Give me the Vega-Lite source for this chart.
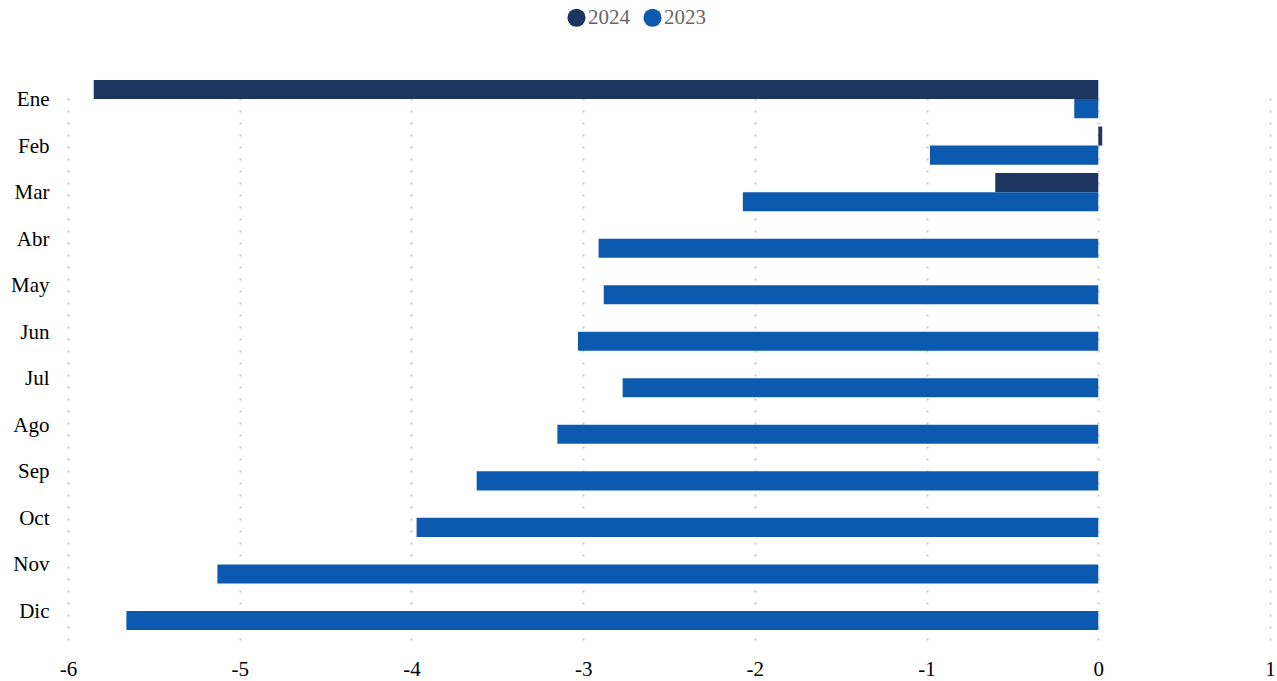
{
  "$schema": "https://vega.github.io/schema/vega-lite/v6.json",
  "width": 1202,
  "height": 580,
  "autosize": {"type": "none"},
  "padding": {"left": 68, "top": 70, "right": 7, "bottom": 31},
  "background": "white",
  "config": {
    "view": {"stroke": null},
    "font": "Liberation Serif"
  },
  "data": {
    "values": [
      {"mes": "Ene", "anio": "2024", "valor": -5.85},
      {"mes": "Ene", "anio": "2023", "valor": -0.14},
      {"mes": "Feb", "anio": "2024", "valor": 0.023},
      {"mes": "Feb", "anio": "2023", "valor": -0.98},
      {"mes": "Mar", "anio": "2024", "valor": -0.60},
      {"mes": "Mar", "anio": "2023", "valor": -2.07},
      {"mes": "Abr", "anio": "2023", "valor": -2.91},
      {"mes": "May", "anio": "2023", "valor": -2.88},
      {"mes": "Jun", "anio": "2023", "valor": -3.03},
      {"mes": "Jul", "anio": "2023", "valor": -2.77},
      {"mes": "Ago", "anio": "2023", "valor": -3.15},
      {"mes": "Sep", "anio": "2023", "valor": -3.62},
      {"mes": "Oct", "anio": "2023", "valor": -3.97},
      {"mes": "Nov", "anio": "2023", "valor": -5.13},
      {"mes": "Dic", "anio": "2023", "valor": -5.66}
    ]
  },
  "mark": {"type": "bar"},
  "encoding": {
    "y": {
      "field": "mes",
      "type": "nominal",
      "sort": ["Ene", "Feb", "Mar", "Abr", "May", "Jun", "Jul", "Ago", "Sep", "Oct", "Nov", "Dic"],
      "scale": {"paddingInner": 0.18, "paddingOuter": 0, "range": [10, 560]},
      "axis": {
        "title": null,
        "domain": false,
        "ticks": false,
        "grid": false,
        "labelFont": "Liberation Serif",
        "labelFontSize": 21,
        "labelColor": "#000000",
        "labelPadding": 19,
        "labelBaseline": "middle",
        "labelOffset": 1
      }
    },
    "yOffset": {
      "field": "anio",
      "type": "nominal",
      "sort": ["2024", "2023"],
      "scale": {"paddingInner": 0, "paddingOuter": 0}
    },
    "x": {
      "field": "valor",
      "type": "quantitative",
      "scale": {"domain": [-6, 1], "nice": false, "zero": false},
      "axis": {
        "title": null,
        "values": [-6, -5, -4, -3, -2, -1, 0, 1],
        "labelExpr": "'' + datum.value",
        "labelFlush": false,
        "labelOverlap": false,
        "domain": false,
        "ticks": false,
        "grid": true,
        "gridColor": "#c8c8c8",
        "gridDash": [2, 10],
        "gridWidth": 2,
        "labelFont": "Liberation Serif",
        "labelFontSize": 21,
        "labelColor": "#000000",
        "labelPadding": 8
      }
    },
    "color": {
      "field": "anio",
      "type": "nominal",
      "sort": ["2024", "2023"],
      "scale": {"domain": ["2024", "2023"], "range": ["#1e3560", "#0c5aaf"]},
      "legend": {
        "title": null,
        "orient": "none",
        "direction": "horizontal",
        "legendX": 498,
        "legendY": -63,
        "symbolType": "circle",
        "symbolSize": 330,
        "symbolOpacity": 1,
        "symbolStrokeWidth": 0,
        "labelFont": "Liberation Serif",
        "labelFontSize": 21,
        "labelColor": "#666666",
        "labelOffset": 1,
        "columnPadding": 12
      }
    }
  }
}
